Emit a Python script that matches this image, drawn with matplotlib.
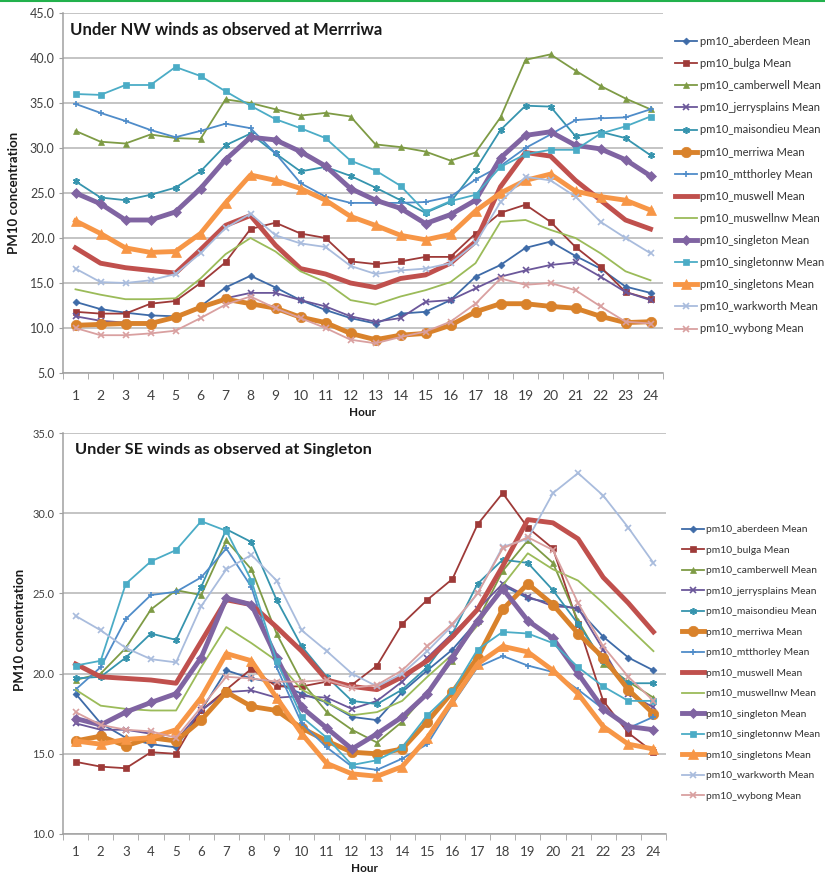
import matplotlib
matplotlib.use("Agg")
import matplotlib.pyplot as plt
from matplotlib.lines import Line2D
from matplotlib.ticker import FixedLocator, NullFormatter

plt.rcParams['font.family'] = ['Lato', 'DejaVu Sans']

hours = list(range(1, 25))

stations = ['aberdeen', 'bulga', 'camberwell', 'jerrysplains', 'maisondieu',
            'merriwa', 'mtthorley', 'muswell', 'muswellnw', 'singleton',
            'singletonnw', 'singletons', 'warkworth', 'wybong']

# hourly PM10 means under NW winds (Merriwa)
aberdeen_nw = [12.9, 12.1, 11.7, 11.4, 11.3, 12.4, 14.5, 15.8, 14.5, 13.1, 12.0, 11.1,
               10.5, 11.6, 11.8, 13.1, 15.7, 17.0, 18.9, 19.6, 18.0, 16.6, 14.6, 13.9]
bulga_nw = [11.8, 11.6, 11.6, 12.7, 13.0, 15.0, 17.3, 21.0, 21.7, 20.5, 20.0, 17.4,
            17.1, 17.4, 17.9, 17.9, 20.5, 22.8, 23.7, 21.8, 19.0, 16.8, 14.0, 13.2]
camberwell_nw = [31.9, 30.7, 30.5, 31.5, 31.1, 31.0, 35.4, 35.0, 34.3, 33.6, 33.9, 33.5,
                 30.4, 30.1, 29.6, 28.6, 29.5, 33.4, 39.8, 40.4, 38.6, 36.9, 35.5, 34.3]
jerrysplains_nw = [11.3, 10.8, 10.6, 10.6, 11.1, 12.3, 13.3, 13.9, 13.9, 13.1, 12.4, 11.3,
                   10.7, 11.1, 12.9, 13.1, 14.4, 15.7, 16.4, 17.0, 17.3, 15.7, 14.0, 13.1]
maisondieu_nw = [26.3, 24.5, 24.2, 24.8, 25.6, 27.4, 30.3, 31.6, 29.4, 27.4, 27.9, 26.9,
                 25.6, 24.2, 22.8, 24.0, 27.6, 32.0, 34.7, 34.6, 31.3, 31.8, 31.1, 29.2]
merriwa_nw = [10.3, 10.4, 10.5, 10.5, 11.2, 12.3, 13.2, 12.7, 12.2, 11.2, 10.6, 9.4,
              8.7, 9.2, 9.4, 10.3, 11.8, 12.7, 12.7, 12.4, 12.2, 11.3, 10.6, 10.7]
mtthorley_nw = [34.9, 33.9, 33.0, 32.0, 31.2, 31.9, 32.7, 32.2, 29.4, 26.1, 24.6, 23.9,
                23.9, 23.9, 24.0, 24.6, 26.5, 28.0, 30.0, 31.5, 33.1, 33.3, 33.4, 34.3]
muswell_nw = [18.9, 17.2, 16.7, 16.4, 16.1, 18.7, 21.4, 22.5, 19.2, 16.6, 16.0, 15.0,
              14.5, 15.5, 15.9, 17.2, 19.6, 25.7, 29.5, 29.1, 26.4, 24.2, 22.0, 21.0]
muswellnw_nw = [14.3, 13.7, 13.2, 13.2, 13.3, 15.5, 18.2, 20.0, 18.5, 16.3, 15.1, 13.1,
                12.6, 13.5, 14.2, 15.1, 17.2, 21.8, 22.0, 20.9, 20.0, 18.3, 16.3, 15.3]
singleton_nw = [25.0, 23.8, 22.0, 22.0, 22.9, 25.5, 28.7, 31.2, 30.9, 29.6, 28.0, 25.5,
                24.2, 23.3, 21.6, 22.6, 24.2, 28.9, 31.4, 31.8, 30.3, 29.9, 28.7, 26.9]
singletonnw_nw = [36.0, 35.9, 37.0, 37.0, 39.0, 38.0, 36.3, 34.7, 33.2, 32.2, 31.1, 28.6,
                  27.5, 25.8, 22.9, 24.1, 24.8, 27.9, 29.3, 29.8, 29.8, 31.6, 32.4, 33.5]
singletons_nw = [21.9, 20.5, 18.9, 18.4, 18.5, 20.5, 23.9, 27.0, 26.4, 25.5, 24.2, 22.4,
                 21.4, 20.3, 19.8, 20.4, 23.0, 25.0, 26.4, 27.1, 25.2, 24.6, 24.2, 23.1]
warkworth_nw = [16.6, 15.1, 15.0, 15.3, 16.0, 18.3, 21.1, 22.7, 20.3, 19.4, 19.0, 16.9,
                16.0, 16.4, 16.6, 17.2, 19.4, 24.0, 26.8, 26.4, 24.6, 21.8, 20.0, 18.3]
wybong_nw = [10.0, 9.2, 9.2, 9.4, 9.7, 11.1, 12.6, 13.5, 12.2, 11.1, 10.0, 8.7,
             8.3, 9.0, 9.6, 10.7, 12.7, 15.5, 14.8, 15.0, 14.2, 12.4, 10.7, 10.5]

# hourly PM10 means under SE winds (Singleton)
aberdeen_se = [18.75, 16.9, 16.0, 15.6, 15.4, 17.7, 20.2, 19.7, 19.4, 18.75, 18.2, 17.3,
               17.1, 18.85, 20.2, 21.5, 23.3, 25.5, 24.7, 24.4, 24.0, 22.3, 21.0, 20.2]
bulga_se = [14.5, 14.2, 14.1, 15.1, 15.0, 17.7, 19.0, 20.3, 19.2, 19.2, 19.5, 19.3,
            20.5, 23.1, 24.6, 25.9, 29.3, 31.25, 29.1, 27.8, 23.1, 18.3, 16.3, 15.1]
camberwell_se = [19.6, 20.0, 21.6, 24.0, 25.2, 24.9, 28.3, 26.5, 22.5, 19.5, 17.6, 16.5,
                 15.7, 17.0, 18.8, 20.8, 23.3, 26.4, 28.3, 26.9, 23.3, 20.6, 19.5, 18.5]
jerrysplains_se = [16.9, 16.5, 16.5, 16.25, 15.8, 17.7, 18.85, 18.95, 18.5, 18.6, 18.5, 17.8,
                   18.3, 19.5, 21.0, 22.5, 24.0, 25.6, 24.8, 24.2, 24.1, 21.5, 18.75, 17.9]
maisondieu_se = [19.7, 19.8, 21.0, 22.5, 22.1, 25.4, 29.0, 28.2, 24.6, 21.7, 19.8, 18.3,
                 18.1, 19.0, 20.4, 22.5, 25.6, 27.1, 26.9, 25.2, 23.1, 20.8, 19.4, 19.4]
merriwa_se = [15.8, 16.1, 15.5, 16.0, 15.8, 17.1, 18.85, 17.95, 17.7, 16.6, 15.8, 15.1,
              15.0, 15.3, 17.0, 18.85, 21.0, 24.0, 25.6, 24.3, 22.5, 21.0, 19.0, 17.5]
mtthorley_se = [19.0, 20.4, 23.4, 24.9, 25.1, 26.0, 27.8, 25.4, 20.4, 16.9, 15.4, 14.2,
                14.0, 14.7, 15.6, 18.1, 20.4, 21.1, 20.5, 20.1, 19.0, 17.8, 16.6, 17.3]
muswell_se = [20.6, 19.8, 19.7, 19.6, 19.4, 22.0, 24.6, 24.3, 22.9, 21.4, 19.6, 19.2,
              19.0, 19.8, 20.8, 22.3, 24.0, 26.7, 29.6, 29.4, 28.4, 26.0, 24.4, 22.6]
muswellnw_se = [19.0, 18.0, 17.8, 17.7, 17.7, 20.4, 22.9, 21.9, 20.8, 19.0, 18.2, 17.4,
                17.6, 18.3, 19.8, 21.2, 23.0, 25.5, 27.5, 26.5, 25.8, 24.4, 22.9, 21.4]
singleton_se = [17.2, 16.8, 17.6, 18.2, 18.75, 21.0, 24.7, 24.3, 21.0, 17.9, 16.6, 15.3,
                16.25, 17.3, 18.75, 21.0, 23.3, 25.3, 23.3, 22.2, 20.0, 17.8, 16.7, 16.5]
singletonnw_se = [20.5, 20.8, 25.6, 27.0, 27.7, 29.5, 28.9, 25.8, 20.8, 17.3, 16.0, 14.3,
                  14.6, 15.4, 17.4, 18.9, 21.5, 22.6, 22.5, 21.9, 20.4, 19.2, 18.3, 18.3]
singletons_se = [15.8, 15.6, 15.9, 16.0, 16.5, 18.5, 21.25, 20.8, 18.5, 16.25, 14.4, 13.75,
                 13.6, 14.2, 16.0, 18.3, 20.6, 21.7, 21.35, 20.2, 18.75, 16.7, 15.6, 15.3]
warkworth_se = [23.6, 22.7, 21.6, 20.9, 20.7, 24.2, 26.5, 27.4, 25.8, 22.7, 21.4, 20.0,
                19.2, 20.0, 21.4, 23.0, 25.0, 27.9, 28.4, 31.25, 32.5, 31.1, 29.1, 26.9]
wybong_se = [17.6, 16.8, 16.5, 16.4, 16.0, 17.9, 19.8, 19.7, 19.5, 19.5, 19.6, 19.1,
             19.3, 20.2, 21.7, 23.1, 25.0, 27.8, 28.5, 27.7, 24.4, 21.7, 19.8, 18.3]

nw_series = [aberdeen_nw, bulga_nw, camberwell_nw, jerrysplains_nw, maisondieu_nw,
             merriwa_nw, mtthorley_nw, muswell_nw, muswellnw_nw, singleton_nw,
             singletonnw_nw, singletons_nw, warkworth_nw, wybong_nw]
se_series = [aberdeen_se, bulga_se, camberwell_se, jerrysplains_se, maisondieu_se,
             merriwa_se, mtthorley_se, muswell_se, muswellnw_se, singleton_se,
             singletonnw_se, singletons_se, warkworth_se, wybong_se]

# colour, marker, marker size, line width
styles = {
    'aberdeen':     ('#3E6BA8', 'D', 3.5, 1.3),
    'bulga':        ('#9E3A38', 's', 4.5, 1.3),
    'camberwell':   ('#7E9B45', '^', 4.5, 1.3),
    'jerrysplains': ('#6B579A', 'x', 4.5, 1.3),
    'maisondieu':   ('#3694AE', (6, 2, 0), 5, 1.3),
    'merriwa':      ('#D9822B', 'o', 7.5, 3.5),
    'mtthorley':    ('#4F8CC9', '+', 5, 1.3),
    'muswell':      ('#C0504D', None, 0, 3.5),
    'muswellnw':    ('#9BBB59', None, 0, 1.3),
    'singleton':    ('#8064A2', 'D', 5.5, 3.5),
    'singletonnw':  ('#4BACC6', 's', 5, 1.3),
    'singletons':   ('#F79646', '^', 7, 3.5),
    'warkworth':    ('#A9BCDD', 'x', 4.5, 1.3),
    'wybong':       ('#D9A0A0', 'x', 4.5, 1.3),
}

fig = plt.figure(figsize=(8.25, 8.74), dpi=100)
W, H = 825.0, 874.0


def px_axes(left, top, right, bottom):
    return fig.add_axes([left / W, 1 - bottom / H, (right - left) / W, (bottom - top) / H])


def draw_panel(ax, series, ylim, ystep, title, title_xy, title_fs, tick_fs, ylab_fs, xpad):
    for name, vals in zip(stations, series):
        col, mk, ms, lw = styles[name]
        ax.plot(hours, vals, color=col, marker=mk, markersize=ms, linewidth=lw,
                markeredgewidth=1.2 if mk in ('x', '+', (6, 2, 0)) else 0.5,
                markeredgecolor=col, label=f'pm10_{name} Mean', solid_joinstyle='round')
    ax.set_xlim(0.5, 24.5)
    ax.set_ylim(*ylim)
    yt = [ylim[0] + i * ystep for i in range(int((ylim[1] - ylim[0]) / ystep) + 1)]
    ax.set_yticks(yt)
    ax.set_yticklabels([f'{v:.1f}' for v in yt], fontsize=ylab_fs, color='#404040')
    ax.set_xticks(hours)
    ax.set_xticklabels([str(h) for h in hours], fontsize=tick_fs, color='#404040')
    ax.xaxis.set_minor_locator(FixedLocator([h + 0.5 for h in range(0, 25)]))
    ax.xaxis.set_minor_formatter(NullFormatter())
    ax.tick_params(axis='x', which='major', length=0, pad=xpad)
    ax.tick_params(axis='x', which='minor', length=4, color='#a0a0a0', direction='out')
    ax.tick_params(axis='y', length=3, color='#a0a0a0', pad=3)
    ax.grid(axis='y', color='#b4b4b4', linewidth=1.1)
    ax.set_axisbelow(True)
    for side in ('top', 'right'):
        ax.spines[side].set_visible(False)
    for side in ('left', 'bottom'):
        ax.spines[side].set_color('#a0a0a0')
        ax.spines[side].set_linewidth(1.1)
    ax.text(title_xy[0], title_xy[1], title, transform=ax.transAxes, fontsize=title_fs,
            fontweight='bold', color='#1a1a1a', va='center', ha='left')


ax1 = px_axes(63, 13, 663, 373)
draw_panel(ax1, nw_series, (5, 45), 5, 'Under NW winds as observed at Merrriwa',
           (0.012, 0.953), 12, 10, 9, 12)
ax1.legend(loc='upper left', bbox_to_anchor=(675 / W, 1 - 36 / H), bbox_transform=fig.transFigure,
           frameon=False, fontsize=8, handlelength=2.0, handletextpad=0.27,
           labelspacing=1.0, borderpad=0, borderaxespad=0, numpoints=1,
           labelcolor='#333333')

ax2 = px_axes(63, 433, 666, 834)
draw_panel(ax2, se_series, (10, 35), 5, 'Under SE winds as observed at Singleton',
           (0.02, 0.958), 11.8, 9.5, 8, 9)
ax2.legend(loc='upper left', bbox_to_anchor=(682 / W, 1 - 525 / H), bbox_transform=fig.transFigure,
           frameon=False, fontsize=7.4, handlelength=2.1, handletextpad=0.2,
           labelspacing=1.1, borderpad=0, borderaxespad=0, numpoints=1,
           labelcolor='#333333')

fig.text(14 / W, 1 - 193 / H, 'PM10 concentration', rotation=90, fontsize=9.5,
         fontweight='bold', ha='center', va='center', color='#1a1a1a')
fig.text(20 / W, 1 - 630 / H, 'PM10 concentration', rotation=90, fontsize=9.5,
         fontweight='bold', ha='center', va='center', color='#1a1a1a')
fig.text(363 / W, 1 - 412 / H, 'Hour', fontsize=8.5, fontweight='bold',
         ha='center', va='center', color='#1a1a1a')
fig.text(365 / W, 1 - 868 / H, 'Hour', fontsize=8.5, fontweight='bold',
         ha='center', va='center', color='#1a1a1a')

# thin green rule along the top edge
fig.add_artist(Line2D([0, 1], [1 - 1 / H, 1 - 1 / H], transform=fig.transFigure,
                      color='#22B14C', linewidth=1.5))

fig.savefig('out.png', dpi=100)
